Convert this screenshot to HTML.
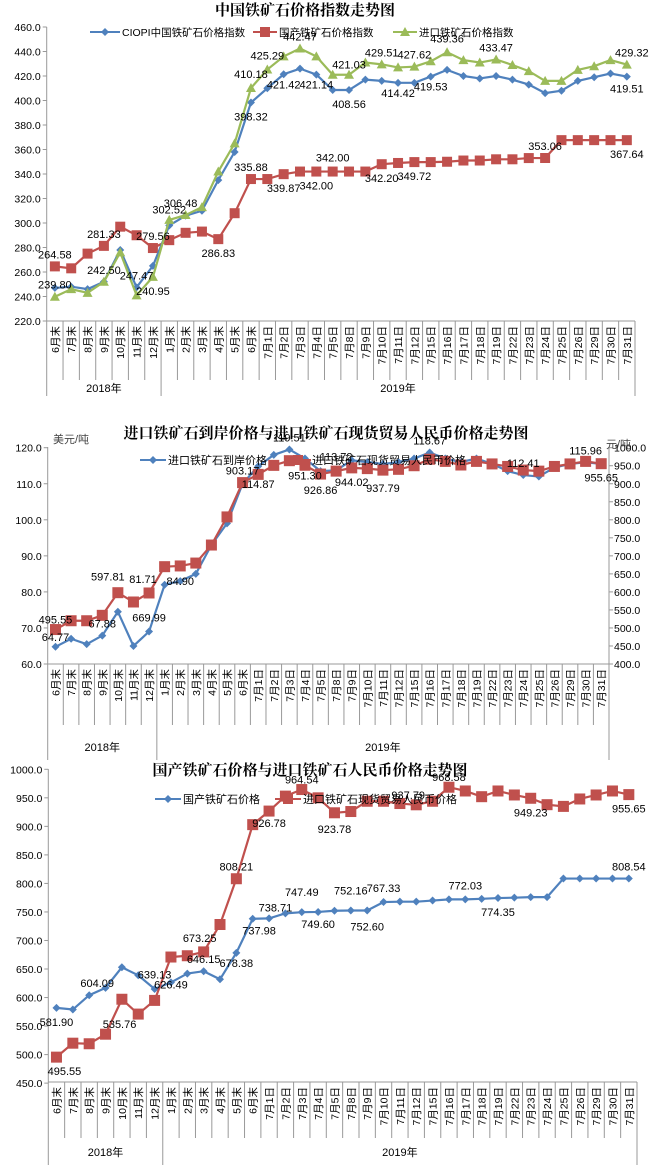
<!DOCTYPE html>
<html><head><meta charset="utf-8"><style>
body{margin:0;background:#fff;width:650px;height:1165px;overflow:hidden}
svg{display:block}
text{font-family:"Liberation Sans","Noto Sans CJK SC",sans-serif;fill:#000}
.t{font-family:"Liberation Serif","Noto Serif CJK SC",serif;font-weight:bold}
</style></head><body>
<svg id="s" width="650" height="1165" xmlns="http://www.w3.org/2000/svg"></svg>
<script>
const S=document.getElementById('s');let h='';
const cats=['6月末','7月末','8月末','9月末','10月末','11月末','12月末','1月末','2月末','3月末','4月末','5月末','6月末','7月1日','7月2日','7月3日','7月4日','7月5日','7月8日','7月9日','7月10日','7月11日','7月12日','7月15日','7月16日','7月17日','7月18日','7月19日','7月22日','7月23日','7月24日','7月25日','7月26日','7月29日','7月30日','7月31日'];
function T(x,y,s,sz,a,c,cls){h+=`<text x="${x}" y="${y}" font-size="${sz||11}" text-anchor="${a||'start'}" ${c?`style="fill:${c}"`:''} ${cls?`class="${cls}"`:''}>${s}</text>`;}
function L(x1,y1,x2,y2,c,w){h+=`<line x1="${x1}" y1="${y1}" x2="${x2}" y2="${y2}" stroke="${c||'#999'}" stroke-width="${w||1}"/>`;}
function xaxis(x0,x1,yb,ysep,yend,ylab){const w=(x1-x0)/36;
 L(x0,yb,x1,yb,'#999');
 for(let i=0;i<=36;i++){const x=x0+w*i;L(x,yb,x,(i==0||i==7||i==36)?yend:ysep,'#999');}
 cats.forEach((c,i)=>{const x=x0+w*(i+.5)+4;h+=`<text transform="translate(${x},${yb+5}) rotate(-90)" font-size="10.5" text-anchor="end">${c}</text>`;});
 T(x0+w*3.5,ylab,'2018年',11,'middle');T(x0+w*21.5,ylab,'2019年',11,'middle');}
function series(x0,x1,f,vals,col,m,sz){const w=(x1-x0)/36;const p=vals.map((v,i)=>[x0+w*(i+.5),f(v)]);sz=sz||10;
 h+=`<polyline points="${p.map(q=>q.join(',')).join(' ')}" fill="none" stroke="${col}" stroke-width="2.2"/>`;
 p.forEach(([x,y])=>{if(m=='d')h+=`<polygon points="${x},${y-4} ${x+4},${y} ${x},${y+4} ${x-4},${y}" fill="${col}"/>`;
 else if(m=='s')h+=`<rect x="${x-sz/2}" y="${y-sz/2}" width="${sz}" height="${sz}" fill="#c0504d"/>`;
 else h+=`<polygon points="${x},${y-5} ${x+5},${y+4} ${x-5},${y+4}" fill="#9bbb59"/>`;});return p;}
function lab(p,i,s,dx,dy){T(p[i][0]+(dx||0),p[i][1]+(dy||0),s,11,'middle');}
// ---------- Chart 1
T(305,15,'中国铁矿石价格指数走势图',15,'middle','','t');
{const x0=46.7,x1=635,f=v=>27+(460-v)*1.225;
 L(x0,27,x0,321,'#999');
 for(let v=220;v<=460;v+=20){const y=f(v);L(x0-4,y,x0,y,'#999');T(x0-6,y+4,v.toFixed(1),10.5,'end');}
 xaxis(x0,x1,321,380,396,392);
 const red=[264.58,263,275,281.33,297,290,279.56,286,292,293,286.83,308,335.88,335.88,339.87,342,342,342,342,342,348,349,349.72,349.72,350,351,351,352,352,353,353.06,367.64,367.64,367.64,367.64,367.64];
 const blue=[247,248,246,252,278,247.47,265,298,306,310,335,358,398.32,410,421.42,426,421.14,408.56,408.56,417,416,414.42,414.42,419.53,425,420,418,420,417,413,406,408,416,419,422,419.51];
 const green=[239.8,246,243,252,276,240.95,256,302.52,306.48,313,342,365,410.18,425.29,436,442.47,436,421,421.03,431,429.51,427,427.62,432,439.36,433,431,433.47,429,424,416,416,425,428,433,429.32];
 const r=series(x0,x1,f,red,'#c0504d','s');const b=series(x0,x1,f,blue,'#4f81bd','d');const g=series(x0,x1,f,green,'#9bbb59','g');
 lab(r,0,'264.58',0,-8);lab(g,0,'239.80',0,-8);lab(r,3,'281.33',0,-8);lab(b,3,'242.50',0,-8);lab(b,5,'247.47',0,-8);lab(r,6,'279.56',0,-8);lab(g,6,'240.95',0,18);
 lab(b,7,'302.52',0,-12);lab(g,8,'306.48',-5,-8);lab(r,10,'286.83',0,18);
 lab(b,12,'398.32',0,18);lab(g,12,'410.18',0,-10);lab(g,13,'425.29',0,-10);lab(g,15,'442.47',0,-8);lab(b,14,'421.42',0,14);lab(b,16,'421.14',0,14);lab(b,18,'408.56',0,18);lab(g,18,'421.03',0,-6);lab(g,20,'429.51',0,-8);lab(b,21,'414.42',0,14);lab(b,23,'419.53',0,14);lab(g,22,'427.62',0,-8);lab(g,24,'439.36',0,-10);lab(g,27,'433.47',0,-8);lab(g,35,'429.32',5,-8);lab(b,35,'419.51',0,16);
 lab(r,12,'335.88',0,-8);lab(r,14,'339.87',0,18);lab(r,16,'342.00',0,18);lab(r,17,'342.00',0,-10);lab(r,20,'342.20',0,18);lab(r,22,'349.72',0,18);lab(r,30,'353.06',0,-8);lab(r,35,'367.64',0,18);
 L(90,32,120,32,'#4f81bd',2);h+=`<polygon points="105,28 109,32 105,36 101,32" fill="#4f81bd"/>`;T(122,36,'CIOPI中国铁矿石价格指数',10.5);
 L(253,32,277,32,'#c0504d',2);h+=`<rect x="260" y="27" width="10" height="10" fill="#c0504d"/>`;T(279,36,'国产铁矿石价格指数',10.5);
 L(393,32,417,32,'#9bbb59',2);h+=`<polygon points="405,27 410,36 400,36" fill="#9bbb59"/>`;T(419,36,'进口铁矿石价格指数',10.5);
}
// ---------- Chart 2
T(326,438,'进口铁矿石到岸价格与进口铁矿石现货贸易人民币价格走势图',15,'middle','','t');
{const x0=47.7,x1=609,f=v=>447.7+(120-v)*3.605,fr=r=>664-(r-400)*0.3605;
 L(x0,447,x0,664,'#999');L(x1,447,x1,664,'#999');
 for(let v=60;v<=120;v+=10){const y=f(v);L(x0-4,y,x0,y,'#999');T(x0-6,y+4,v.toFixed(1),10.5,'end');}
 for(let v=400;v<=1000;v+=50){const y=fr(v);L(x1,y,x1+4,y,'#999');T(x1+5,y+4,v.toFixed(1),10.5,'start');}
 T(53,443,'美元/吨',11,'start','#444');T(606,448,'元/吨',11,'start','#444');
 xaxis(x0,x1,664,725,760,751);
 const blue=[64.77,67,65.5,67.88,74.5,65,69,82,83,85,93,99,110,114.87,118,119.51,117,113.5,113.72,116.5,116,115.5,116,117,118.67,117,116,117,115.5,113.5,112.41,112,114.5,115.5,115.96,115.5];
 const red=[495.55,520,520,535,597.81,572,597,669.99,672,680,730,808,903.17,926,951,964,951.3,926.86,935,944.02,942,937.79,940,950,968,962,952,962,955,948,938,935,948,955,962,955.65];
 const b=series(x0,x1,f,blue,'#4f81bd','d');const r=series(x0,x1,fr,red,'#c0504d','s',11);
 lab(r,0,'495.55',0,-6);lab(b,0,'64.77',0,-6);lab(b,3,'67.88',0,-8);lab(r,4,'597.81',-10,-12);lab(r,6,'81.71',-6,-10);lab(b,6,'669.99',0,-10);lab(b,8,'84.90',0,4);
 lab(r,12,'903.17',0,-8);lab(b,13,'114.87',0,22);lab(b,15,'119.51',0,-8);lab(r,16,'951.30',0,14);lab(r,17,'926.86',0,20);lab(b,18,'113.72',0,-10);lab(r,19,'944.02',0,18);lab(r,21,'937.79',0,22);lab(b,24,'118.67',0,-8);lab(b,30,'112.41',0,-8);lab(b,34,'115.96',0,-8);lab(r,35,'955.65',0,18);
 L(140,460,166,460,'#4f81bd',2);h+=`<polygon points="153,456 157,460 153,464 149,460" fill="#4f81bd"/>`;T(168,464,'进口铁矿石到岸价格',11);
 L(285,460,311,460,'#c0504d',2);h+=`<rect x="293" y="455" width="10" height="10" fill="#c0504d"/>`;T(312,464,'进口铁矿石现货贸易人民币价格',11);
}
// ---------- Chart 3
T(310,775,'国产铁矿石价格与进口铁矿石人民币价格走势图',15,'middle','','t');
{const x0=48.3,x1=637,f=v=>769.3+(1000-v)*0.5706;
 L(x0,769,x0,1082,'#999');
 for(let v=450;v<=1000;v+=50){const y=f(v);L(x0-4,y,x0,y,'#999');T(x0-6,y+4,v.toFixed(1),10.5,'end');}
 xaxis(x0,x1,1082,1138,1165,1156);
 const blue=[581.9,579,604.09,617,653,639,615,626.49,642,646.15,632,678.38,737.98,738.71,747.49,749.6,750,752.16,752.6,752.6,767.33,768,768,770,772,772.03,773,774.35,775,776,776,808.54,808.54,808.54,808.54,808.54];
 const red=[495.55,520,519,535.76,597,571,595,671,673.25,680,728,808.21,903,926.78,953,964.54,950,923.78,926,944,944,940,937.79,944,968.58,962,952,962,955,949.23,938,935,948,955,962,955.65];
 const b=series(x0,x1,f,blue,'#4f81bd','d');const r=series(x0,x1,f,red,'#c0504d','s',11);
 lab(b,0,'581.90',0,18);lab(b,2,'604.09',8,-8);lab(r,0,'495.55',8,18);lab(r,3,'535.76',14,-6);lab(r,6,'639.13',0,-22);lab(b,7,'626.49',0,6);lab(r,9,'673.25',-4,-10);lab(b,9,'646.15',0,-8);lab(b,11,'678.38',0,14);lab(r,11,'808.21',0,-8);lab(b,13,'737.98',-10,16);lab(r,13,'926.78',0,16);lab(b,14,'738.71',-10,-2);lab(b,15,'747.49',0,-16);lab(r,15,'964.54',0,-6);lab(b,16,'749.60',0,16);lab(b,18,'752.16',0,-16);lab(r,17,'923.78',0,20);lab(b,19,'752.60',0,20);lab(r,22,'937.79',-8,-6);lab(b,20,'767.33',0,-10);lab(r,24,'968.58',0,-6);lab(b,25,'772.03',0,-10);lab(b,27,'774.35',0,18);lab(r,29,'949.23',0,18);lab(b,35,'808.54',0,-8);lab(r,35,'955.65',0,18);
 L(155,799,181,799,'#4f81bd',2);h+=`<polygon points="168,795 172,799 168,803 164,799" fill="#4f81bd"/>`;T(183,803,'国产铁矿石价格',11);
 L(275,799,301,799,'#c0504d',2);h+=`<rect x="283" y="794" width="10" height="10" fill="#c0504d"/>`;T(303,803,'进口铁矿石现货贸易人民币价格',11);
}
S.innerHTML=h;
</script>
</body></html>
